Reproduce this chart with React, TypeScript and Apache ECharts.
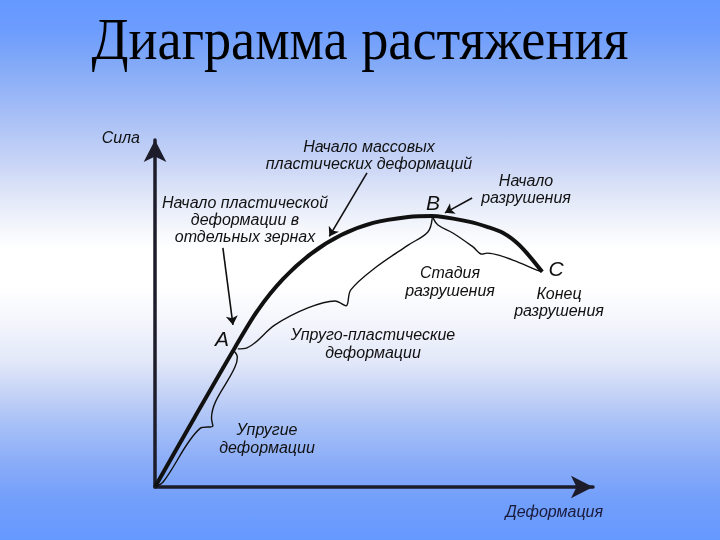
import React, { useEffect, useRef } from "react";
import * as echarts from "echarts";

// Tension diagram: deformation (x) vs force (y), arbitrary units 0..100
const deformation = [0, 9.1, 18.3, 23.5, 29.2, 35.6, 42.5, 49.8, 57.8, 63.2, 71.9, 76.0, 79.5, 82.4, 84.9, 88.4];
const force = [0, 20.2, 40.3, 51.0, 59.9, 67.2, 72.6, 76.1, 77.8, 78.1, 76.4, 74.9, 73.2, 70.6, 67.4, 62.0];

// Braces (x, y) in the same units
const elasticBrace = [
  [17.8, 39.5], [18.8, 37.5], [18.3, 34.7], [12.9, 19.8], [13.2, 17.6],
  [10.3, 16.9], [1.9, 1.5], [0, 0.1],
];
const elastoPlasticBrace = [
  [18.9, 39.8], [21.0, 40.1], [27.4, 46.7], [34.9, 51.6], [41.1, 53.6],
  [43.6, 52.2], [44.7, 56.8], [50.2, 63.1], [57.8, 69.7], [62.3, 73.5], [63.3, 77.5],
];
const fractureBrace = [
  [63.5, 77.5], [64.6, 75.5], [68.0, 73.2], [72.6, 69.2], [74.7, 67.1],
  [75.8, 67.4], [81.7, 65.4], [87.2, 62.5], [88.4, 62.0],
];

// Pointer arrows: [from, to]
const pointers = [
  [[15.5, 68.9], [17.8, 46.7]],
  [[48.4, 90.5], [39.8, 72.2]],
  [[72.4, 83.3], [66.2, 79.0]],
];

const titleText = "Диаграмма растяжения";
const yName = "Сила";
const xName = "Деформация";

export default function App() {
  const ref = useRef<HTMLDivElement>(null);
  useEffect(() => {
    if (!ref.current) return;
    const chart = echarts.init(ref.current, null, { renderer: "svg" });
    const font = '"Liberation Sans", Arial, sans-serif';
    const ann = (text: string, x: number, y: number, lh = 17, size = 16) => ({
      type: "text",
      x,
      y,
      z: 10,
      style: {
        text,
        align: "center",
        verticalAlign: "middle",
        fontFamily: font,
        fontStyle: "italic",
        fontSize: size,
        lineHeight: lh,
        fill: "#111",
      },
    });
    const axisCommon = {
      type: "value",
      min: 0,
      max: 100,
      splitLine: { show: false },
      axisTick: { show: false },
      axisLabel: { show: false },
      axisLine: {
        show: true,
        symbol: ["none", "arrow"],
        symbolSize: [17, 22],
        lineStyle: { color: "#1c1c2a", width: 3.5 },
      },
    };
    chart.setOption({
      animation: false,
      grid: { left: 155, right: 127, top: 140, bottom: 53 },
      xAxis: {
        ...axisCommon,
        name: xName,
        nameLocation: "end",
        nameGap: 10,
        nameTextStyle: {
          align: "right",
          verticalAlign: "top",
          padding: [16, 0, 0, 0],
          fontFamily: font,
          fontStyle: "italic",
          fontSize: 16,
          color: "#1a1a3a",
        },
      },
      yAxis: {
        ...axisCommon,
        name: yName,
        nameLocation: "end",
        nameGap: 3,
        nameTextStyle: {
          align: "right",
          verticalAlign: "middle",
          padding: [0, 15, 0, 0],
          fontFamily: font,
          fontStyle: "italic",
          fontSize: 16,
          color: "#111",
        },
      },
      graphic: [
        {
          type: "rect",
          left: 0,
          top: 0,
          z: -100,
          silent: true,
          shape: { width: 720, height: 540 },
          style: {
            fill: new echarts.graphic.LinearGradient(0, 0, 0, 1, [
              { offset: 0, color: "#6699ff" },
              { offset: 0.055, color: "#6c9cfd" },
              { offset: 0.11, color: "#7fa8f8" },
              { offset: 0.185, color: "#9cb8f6" },
              { offset: 0.3, color: "#c8d4f6" },
              { offset: 0.36, color: "#dfe6f8" },
              { offset: 0.42, color: "#f4f6fc" },
              { offset: 0.46, color: "#ffffff" },
              { offset: 0.53, color: "#ffffff" },
              { offset: 0.6, color: "#f3f5fc" },
              { offset: 0.67, color: "#e2e8f9" },
              { offset: 0.73, color: "#c4d2f6" },
              { offset: 0.79, color: "#a5bff7" },
              { offset: 0.85, color: "#8daef8" },
              { offset: 0.925, color: "#729ffb" },
              { offset: 1, color: "#6699ff" },
            ]),
          },
        },
        {
          type: "text",
          x: 360,
          y: 39,
          z: 10,
          scaleX: 0.97,
          scaleY: 1.07,
          style: {
            text: titleText,
            align: "center",
            verticalAlign: "middle",
            fontFamily: '"Liberation Serif", "Times New Roman", serif',
            fontSize: 56,
            fill: "#000",
          },
        },
        ann("Начало массовых\nпластических деформаций", 369, 155, 16.5),
        ann("Начало\nразрушения", 526, 188.5, 17),
        ann("Начало пластической\nдеформации в\nотдельных зернах", 245, 219, 17),
        ann("Стадия\nразрушения", 450, 281.5, 18),
        ann("Конец\nразрушения", 559, 301.5, 17),
        ann("Упруго-пластические\nдеформации", 373, 343.5, 18),
        ann("Упругие\nдеформации", 267, 438, 18),
        ann("B", 433, 202, 20, 21),
        ann("C", 556, 268, 20, 21),
        ann("A", 222, 338, 20, 21),
      ],
      series: [
        {
          type: "line",
          data: elasticBrace,
          smooth: 0.35,
          showSymbol: false,
          z: 3,
          lineStyle: { color: "#111", width: 1.4 },
        },
        {
          type: "line",
          data: elastoPlasticBrace,
          smooth: 0.35,
          showSymbol: false,
          z: 3,
          lineStyle: { color: "#111", width: 1.4 },
        },
        {
          type: "line",
          data: fractureBrace,
          smooth: 0.35,
          showSymbol: false,
          z: 3,
          lineStyle: { color: "#111", width: 1.4 },
        },
        {
          type: "line",
          data: deformation.map((d, i) => [d, force[i]]),
          smooth: 0.3,
          showSymbol: false,
          z: 5,
          lineStyle: { color: "#111", width: 4 },
        },
        {
          type: "lines",
          coordinateSystem: "cartesian2d",
          symbol: ["none", "arrow"],
          symbolSize: 9,
          z: 6,
          lineStyle: { color: "#111", width: 1.6, opacity: 1 },
          data: pointers.map((p) => ({ coords: p })),
        },
      ],
    });
    return () => chart.dispose();
  }, []);
  return (
    <div
      ref={ref}
      style={{ position: "fixed", left: 0, top: 0, width: 720, height: 540 }}
    />
  );
}
